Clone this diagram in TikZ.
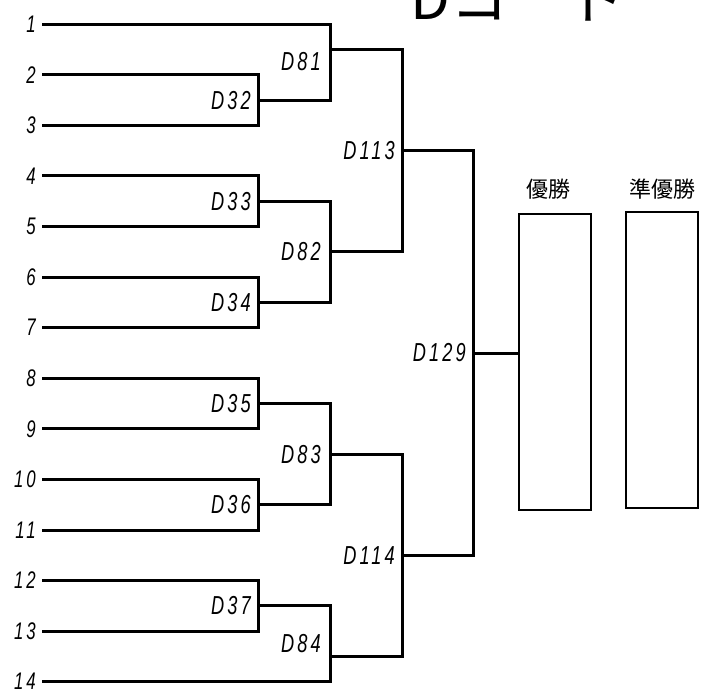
\documentclass[tikz,border=0pt]{standalone}
\usepackage{fontspec}
\setmainfont{Liberation Sans}
\newfontfamily\lblfont{Liberation Sans}[FakeStretch=0.7,LetterSpace=12]
\newfontfamily\jp{Noto Sans CJK JP}
\begin{document}
\begin{tikzpicture}[x=1pt,y=-1pt,
  br/.style={line width=3pt,line join=miter,line cap=rect},
  bx/.style={draw,line width=2pt,minimum width=72pt,minimum height=296pt,inner sep=0pt},
  num/.style={anchor=east,inner sep=0pt,font=\lblfont\itshape\fontsize{24}{24}\selectfont},
  mlbl/.style={anchor=east,inner sep=0pt,font=\lblfont\itshape\fontsize{26}{26}\selectfont},
  head/.style={inner sep=0pt,font=\jp\fontsize{22}{22}\selectfont}]
\useasboundingbox (0,0) rectangle (709,700);
% title (partly cut by the top edge, as in the reference)
\node[anchor=base west,inner sep=0pt,font=\jp\fontsize{58}{58}\selectfont] (title) at (410,20) {Dコート};
% player rows
\foreach \i/\y in {1/24.3,2/74.9,3/125.4,4/176.0,5/226.6,6/277.2,7/327.7,8/378.3,9/428.9,10/479.4,11/530.0,12/580.6,13/631.1,14/681.7}{
  \coordinate (r\i) at (43,\y);
  \node[num] (n\i) at (36,\y) {\i};
}
% match points
\coordinate (m32) at (258,100.2);
\coordinate (m33) at (258,201.3);
\coordinate (m34) at (258,302.4);
\coordinate (m35) at (258,403.6);
\coordinate (m36) at (258,504.7);
\coordinate (m37) at (258,605.9);
\coordinate (m81) at (330,49.6);
\coordinate (m82) at (330,251.9);
\coordinate (m83) at (330,454.2);
\coordinate (m84) at (330,656.4);
\coordinate (m113) at (402,150.7);
\coordinate (m114) at (402,555.3);
\coordinate (m129) at (473,353);
% first round
\draw[br] (r2) -| (m32) |- (r3);
\draw[br] (r4) -| (m33) |- (r5);
\draw[br] (r6) -| (m34) |- (r7);
\draw[br] (r8) -| (m35) |- (r9);
\draw[br] (r10) -| (m36) |- (r11);
\draw[br] (r12) -| (m37) |- (r13);
% second round
\draw[br] (r1) -| (m81) |- (m32);
\draw[br] (m33) -| (m82) |- (m34);
\draw[br] (m35) -| (m83) |- (m36);
\draw[br] (m37) -| (m84) |- (r14);
% third round
\draw[br] (m81) -| (m113) |- (m82);
\draw[br] (m83) -| (m114) |- (m84);
% final
\draw[br] (m113) -| (m129) |- (m114);
% result boxes
\node[bx,anchor=north west] (win) at (517.7,213) {};
\node[bx,anchor=north west] (second) at (624.7,211) {};
\draw[line width=3pt] (m129) -- (m129 -| win.west);
\node[head] (hwin) at (548,189) {優勝};
\node[head] (hsecond) at (662.5,189) {準優勝};
% match labels
\node[mlbl] (l32) at (251,100.2) {D32};
\node[mlbl] (l33) at (251,201.3) {D33};
\node[mlbl] (l34) at (251,302.4) {D34};
\node[mlbl] (l35) at (251,403.6) {D35};
\node[mlbl] (l36) at (251,504.7) {D36};
\node[mlbl] (l37) at (251,605.9) {D37};
\node[mlbl] (l81) at (321,62) {D81};
\node[mlbl] (l82) at (321,251.9) {D82};
\node[mlbl] (l83) at (321,454.2) {D83};
\node[mlbl] (l84) at (321,643.8) {D84};
\node[mlbl] (l113) at (395,150.7) {D113};
\node[mlbl] (l114) at (395,555.3) {D114};
\node[mlbl] (l129) at (466,353) {D129};
\end{tikzpicture}
\end{document}
